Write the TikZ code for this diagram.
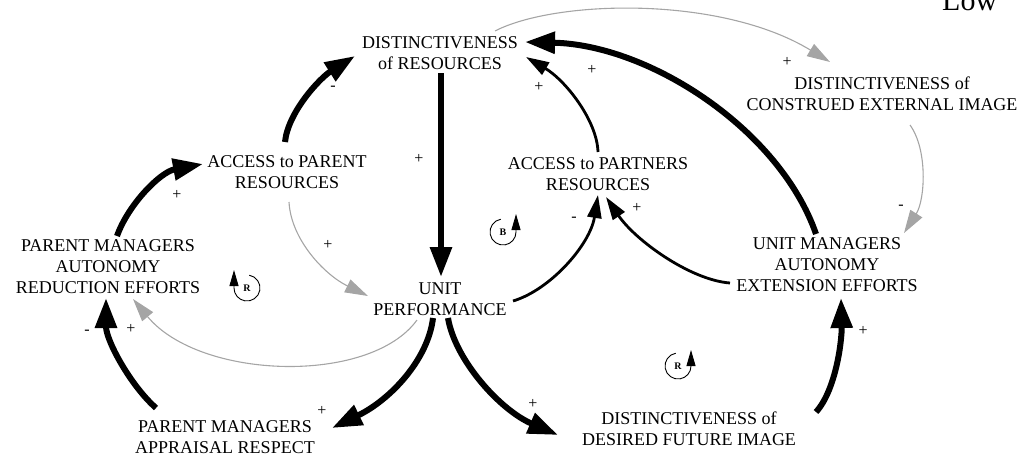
\documentclass[tikz,border=0pt]{standalone}
\usepackage{fontspec}
\setmainfont{Liberation Serif}
\usetikzlibrary{arrows.meta}
\definecolor{lg}{RGB}{165,165,165}
\begin{document}
\begin{tikzpicture}[x=1pt,y=-1pt,
  lbl/.style={align=center,font=\fontsize{18}{21}\selectfont,inner sep=0pt},
  sgn/.style={font=\fontsize{16}{16}\selectfont,inner sep=0pt},
  thk/.style={line width=6pt,-{Triangle[length=30pt,width=21pt]}},
  med/.style={line width=2.8pt,-{Triangle[length=23pt,width=14pt]}},
  gry/.style={draw=lg,line width=1.1pt,-{Triangle[length=23pt,width=14pt,fill=lg]}},
  loopc/.style={line width=0.9pt,-{Triangle[length=16pt,width=9pt]}},
  lp/.style={font=\bfseries\fontsize{10}{10}\selectfont,inner sep=0pt}
]
\useasboundingbox (0,0) rectangle (1024,458);

% nodes
\node[lbl] (dr)  at (440,53)  {DISTINCTIVENESS\\of RESOURCES};
\node[lbl] (apr) at (287,172) {ACCESS to PARENT\\RESOURCES};
\node[lbl] (pma) at (108,267) {PARENT MANAGERS\\AUTONOMY\\REDUCTION EFFORTS};
\node[lbl] (up)  at (440,299) {UNIT\\PERFORMANCE};
\node[lbl] (apt) at (598,174) {ACCESS to PARTNERS\\RESOURCES};
\node[lbl] (dc)  at (882,94)  {DISTINCTIVENESS of\\CONSTRUED EXTERNAL IMAGE};
\node[lbl] (um)  at (827,265) {UNIT MANAGERS\\AUTONOMY\\EXTENSION EFFORTS};
\node[lbl] (dd)  at (689,429) {DISTINCTIVENESS of\\DESIRED FUTURE IMAGE};
\node[lbl] (pmr) at (225,437) {PARENT MANAGERS\\APPRAISAL RESPECT};
\node[anchor=base west,inner sep=0pt,font=\fontsize{30}{30}\selectfont] (low) at (942,10) {Low};

% thick connectors
\draw[thk] ([shift={(-2,-30)}]apr.center) .. controls (288,112) and (320,78) .. ([shift={(-85,3)}]dr.center);
\draw[thk] ([shift={(9,-31)}]pma.center) .. controls (128,205) and (160,172) .. ([shift={(-84,-8)}]apr.center);
\draw[thk] ([shift={(-69,-29)}]pmr.center) .. controls (130,385) and (106,340) .. ([shift={(-2,31)}]pma.center);
\draw[thk] ([shift={(1,20)}]dr.center) -- ([shift={(1,-22)}]up.center);
\draw[thk] ([shift={(-7,19)}]up.center) .. controls (428,360) and (390,400) .. ([shift={(107,-9)}]pmr.center);
\draw[thk] ([shift={(8,19)}]up.center) .. controls (455,360) and (500,410) .. ([shift={(-131,6)}]dd.center);
\draw[thk] ([shift={(127,-17)}]dd.center) .. controls (836,390) and (842,340) .. ([shift={(14,33)}]um.center);
\draw[thk] ([shift={(-11,-31)}]um.center) .. controls (780,130) and (650,45) .. ([shift={(85,-11)}]dr.center);

% medium connectors
\draw[med] ([shift={(73,2)}]up.center) .. controls (550,290) and (590,245) .. ([shift={(0,21)}]apt.center);
\draw[med] ([shift={(-97,18)}]um.center) .. controls (690,280) and (635,240) .. ([shift={(8,23)}]apt.center);
\draw[med] ([shift={(0,-22)}]apt.center) .. controls (597,120) and (565,80) .. ([shift={(86,4)}]dr.center);

% grey connectors
\draw[gry] ([shift={(-23,21)}]up.center) .. controls (370,385) and (200,380) .. ([shift={(25,32)}]pma.center);
\draw[gry] ([shift={(2,30)}]apr.center) .. controls (291,240) and (325,275) .. ([shift={(-72,-3)}]up.center);
\draw[gry] ([shift={(55,-22)}]dr.center) .. controls (555,0) and (720,-5) .. ([shift={(-52,-32)}]dc.center);
\draw[gry] ([shift={(28,31)}]dc.center) .. controls (928,150) and (925,200) .. ([shift={(77,-32)}]um.center);

% signs
\node[sgn] (s1)  at (333,88)  {-};
\node[sgn] (s2)  at (177,195) {+};
\node[sgn] (s3)  at (87,332)  {-};
\node[sgn] (s4)  at (131,329) {+};
\node[sgn] (s5)  at (328,245) {+};
\node[sgn] (s6)  at (419,159) {+};
\node[sgn] (s7)  at (322,411) {+};
\node[sgn] (s8)  at (533,404) {+};
\node[sgn] (s9)  at (863,331) {+};
\node[sgn] (s10) at (592,70)  {+};
\node[sgn] (s11) at (539,87)  {+};
\node[sgn] (s12) at (574,219) {-};
\node[sgn] (s13) at (637,208) {+};
\node[sgn] (s14) at (787,62)  {+};
\node[sgn] (s15) at (901,207) {-};

% loop markers
\node[lp] (r1) at (247,288) {R};
\draw[loopc] ([shift={(-80:13)}]r1.center) arc[start angle=-80,end angle=180,radius=13] -- ++(0,-18);
\node[lp] (r2) at (678,366) {R};
\draw[loopc] ([shift={(-100:13)}]r2.center) arc[start angle=-100,end angle=-360,radius=13] -- ++(0,-16);
\node[lp] (b1) at (503,232) {B};
\draw[loopc] ([shift={(-100:13)}]b1.center) arc[start angle=-100,end angle=-360,radius=13] -- ++(0,-18);
\end{tikzpicture}
\end{document}
